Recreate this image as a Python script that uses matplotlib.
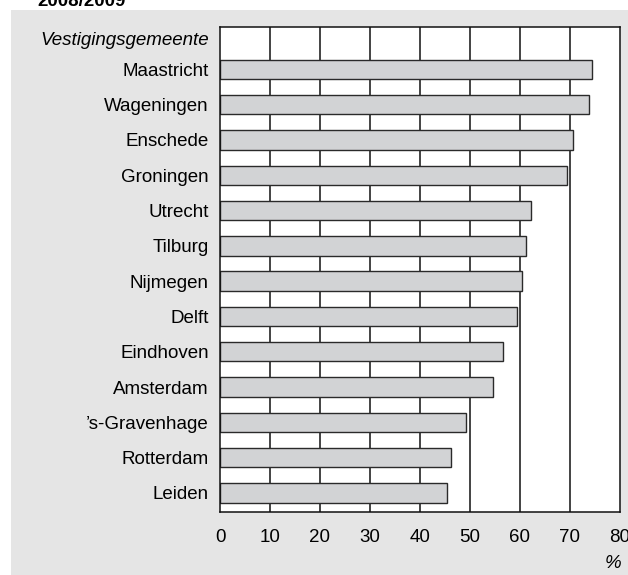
import matplotlib.pyplot as plt
from matplotlib.patches import Rectangle

plt.rcParams['font.family'] = ['Liberation Sans', 'DejaVu Sans']

cities = ['Maastricht', 'Wageningen', 'Enschede', 'Groningen', 'Utrecht',
          'Tilburg', 'Nijmegen', 'Delft', 'Eindhoven', 'Amsterdam',
          '\u2019s-Gravenhage', 'Rotterdam', 'Leiden']
values = [74.3, 73.8, 70.5, 69.3, 62.2, 61.2, 60.4, 59.4, 56.6, 54.5,
          49.1, 46.1, 45.4]
xticks = [0, 10, 20, 30, 40, 50, 60, 70, 80]

W, H = 628, 575
FS = 13.5
fig = plt.figure(figsize=(W / 100, H / 100), dpi=100)

# grey panel behind the chart
fig.patches.append(Rectangle((11 / W, 0), 1 - 11 / W, (H - 10) / H,
                             transform=fig.transFigure, facecolor='#e5e5e5',
                             edgecolor='none', zorder=-5))
fig.text(37 / W, (H - 2) / H, '2008/2009', fontsize=FS, fontweight='bold',
         va='center', ha='left')

ax = fig.add_axes([220 / W, (H - 512) / H, 400 / W, 485 / H])
ax.set_facecolor('white')

n = len(cities)
ypos = [n - 1 - i for i in range(n)]
for x in xticks[1:-1]:
    ax.axvline(x, color='#111111', lw=1.1, zorder=1)
ax.barh(ypos, values, height=0.55, color='#d2d3d5', edgecolor='#2a2a2a',
        lw=1.0, zorder=2)

ax.set_xlim(0, 80)
ax.set_ylim(-0.54, 13.2)
ax.set_yticks(ypos)
ax.set_yticklabels(cities, fontsize=FS)
ax.set_xticks(xticks)
ax.set_xticklabels([str(x) for x in xticks], fontsize=FS)
ax.tick_params(axis='y', length=0, pad=8)
ax.tick_params(axis='x', length=0, pad=12)
for s in ax.spines.values():
    s.set_color('#111111')
    s.set_linewidth(1.1)

ax.text(-11 / 5, 12.82, 'Vestigingsgemeente', fontsize=FS, style='italic',
        ha='right', va='center')
fig.text(613 / W, (H - 563) / H, '%', fontsize=FS, style='italic',
         ha='center', va='center')

fig.savefig('out.png', dpi=100)
